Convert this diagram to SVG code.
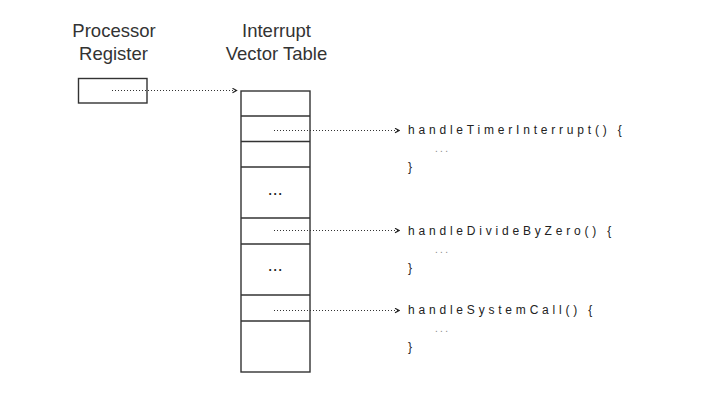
<svg xmlns="http://www.w3.org/2000/svg" width="703" height="413" viewBox="0 0 703 413">
<defs>
<marker id="ah" viewBox="0 0 6 6" refX="5" refY="3" markerWidth="6" markerHeight="6" markerUnits="userSpaceOnUse" orient="auto">
<path d="M1,0.8 L5,3 L1,5.2" fill="none" stroke="#222" stroke-width="1.2"/>
</marker>
</defs>
<style>
.hdr{font-family:"Liberation Sans",Arial,sans-serif;font-size:18.5px;fill:#333;text-anchor:middle}
.code{font-family:"Liberation Sans",Arial,sans-serif;font-size:12px;letter-spacing:3.8px;fill:#222}
.cdots{font-family:"Liberation Sans",Arial,sans-serif;font-size:10px;letter-spacing:2.3px;fill:#888}
.tdots{font-family:"Liberation Sans",Arial,sans-serif;font-size:12px;letter-spacing:1.7px;fill:#222;font-weight:bold}
.box{fill:#fff;stroke:#333;stroke-width:1.4}
.row{stroke:#333;stroke-width:1.4}
.conn{fill:none;stroke:#333;stroke-width:1;stroke-dasharray:1 2;marker-end:url(#ah)}
</style>
<rect width="703" height="413" fill="#fff"/>
<g id="register">
<text class="hdr" x="114" y="37.3">Processor</text>
<text class="hdr" x="113.5" y="60">Register</text>
<rect class="box" x="78.5" y="78.5" width="68.5" height="24.5"/>
</g>
<g id="vector-table">
<text class="hdr" x="276.5" y="37">Interrupt</text>
<text class="hdr" x="276.5" y="60">Vector Table</text>
<rect class="box" x="241" y="91" width="69" height="281"/>
<line class="row" x1="241" y1="116" x2="310" y2="116"/>
<line class="row" x1="241" y1="141.5" x2="310" y2="141.5"/>
<line class="row" x1="241" y1="167" x2="310" y2="167"/>
<line class="row" x1="241" y1="218" x2="310" y2="218"/>
<line class="row" x1="241" y1="244" x2="310" y2="244"/>
<line class="row" x1="241" y1="295" x2="310" y2="295"/>
<line class="row" x1="241" y1="321" x2="310" y2="321"/>
<text class="tdots" x="268.5" y="194.5">...</text>
<text class="tdots" x="268.5" y="270.5">...</text>
</g>
<g id="handler-timer">
<text class="code" x="408" y="134">handleTimerInterrupt() {</text>
<text class="cdots" x="435" y="152">...</text>
<text class="code" x="408" y="171">}</text>
</g>
<g id="handler-divide">
<text class="code" x="408" y="234.5">handleDivideByZero() {</text>
<text class="cdots" x="435" y="252.5">...</text>
<text class="code" x="408" y="271.5">}</text>
</g>
<g id="handler-syscall">
<text class="code" x="408" y="314">handleSystemCall() {</text>
<text class="cdots" x="435" y="332">...</text>
<text class="code" x="408" y="351">}</text>
</g>
<g id="connectors">
<line class="conn" x1="112" y1="90.5" x2="236.5" y2="90.5"/>
<line class="conn" x1="274" y1="130.5" x2="399" y2="130.5"/>
<line class="conn" x1="274" y1="230.5" x2="399" y2="230.5"/>
<line class="conn" x1="274" y1="310.5" x2="399" y2="310.5"/>
</g>
</svg>
